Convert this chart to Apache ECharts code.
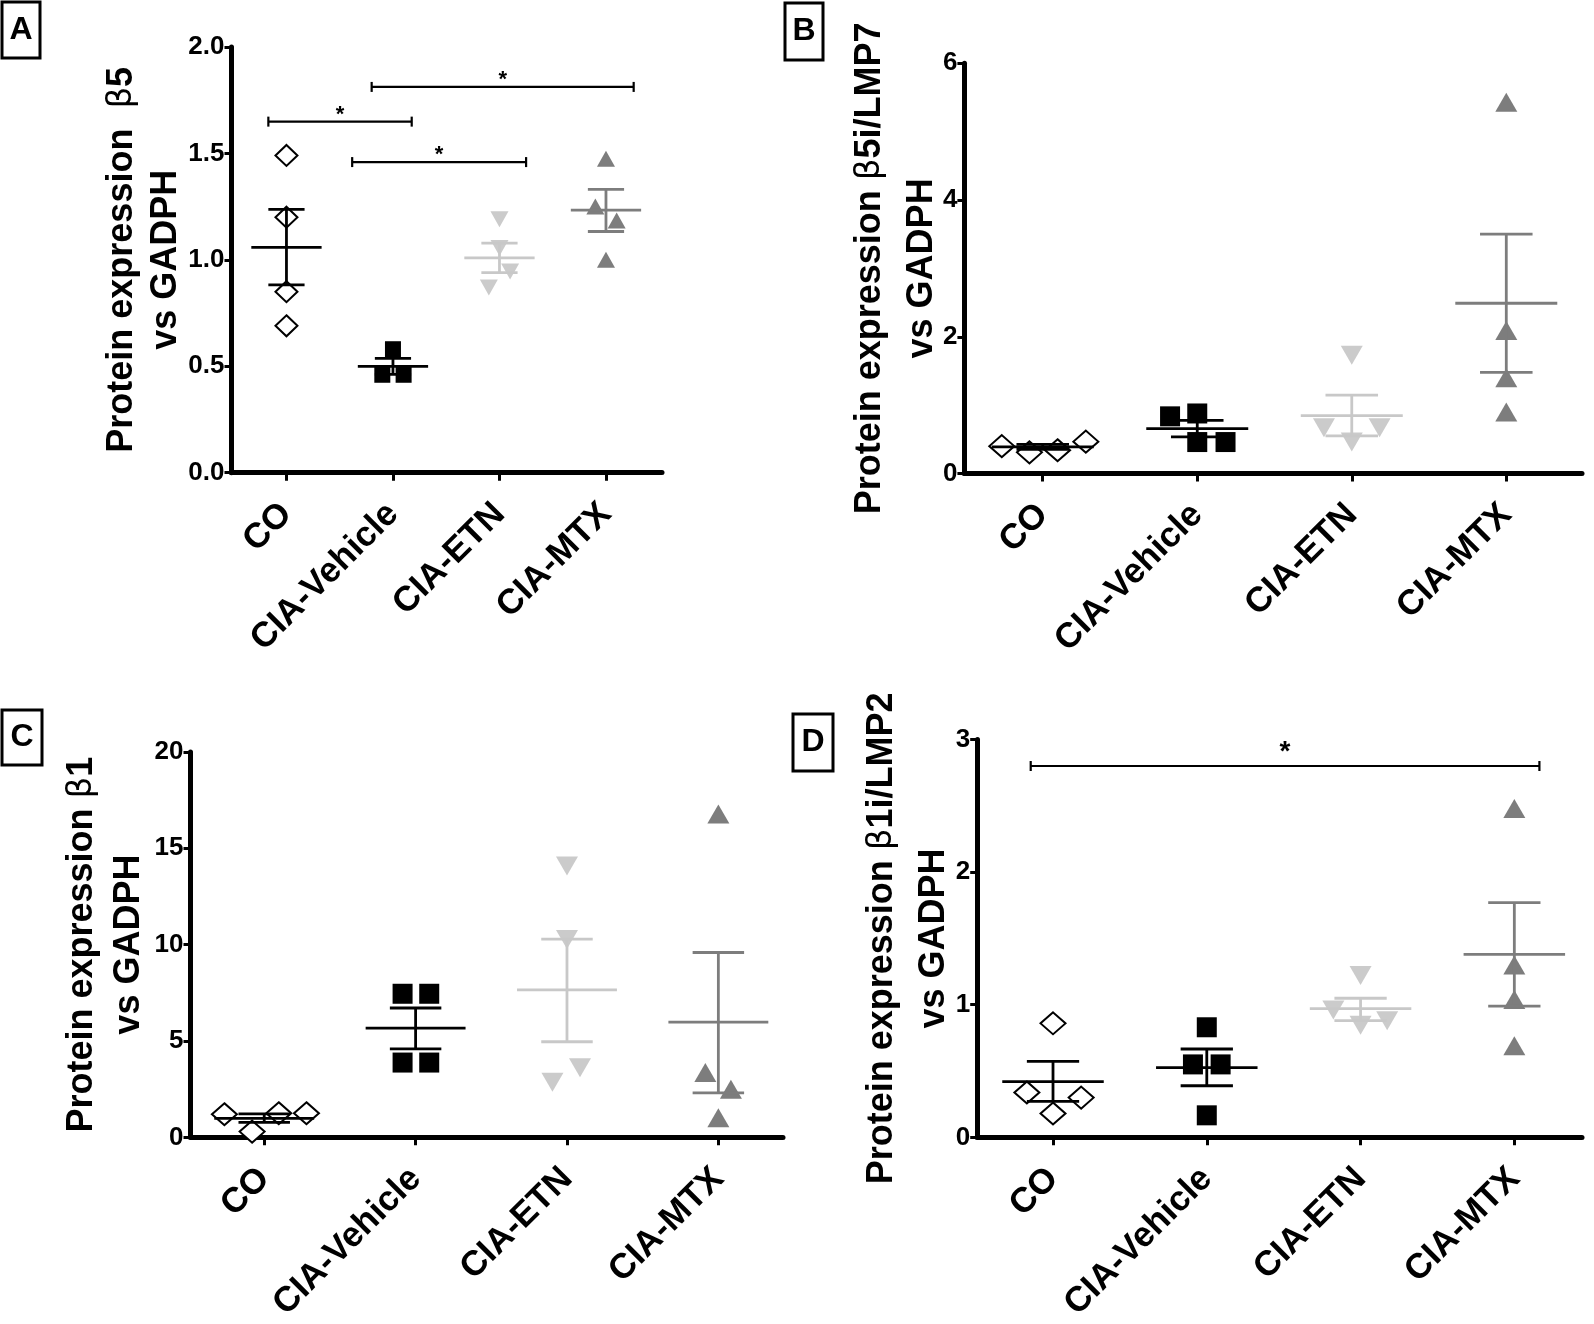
<!DOCTYPE html>
<html><head><meta charset="utf-8">
<script src="https://cdn.jsdelivr.net/npm/echarts@6/dist/echarts.min.js"></script>
<style>html,body{margin:0;padding:0;background:#fff;}#c{width:1594px;height:1324px;}</style>
</head><body><div id="c"></div>
<script>
// ---------- data ----------
const categories = ['CO', 'CIA-Vehicle', 'CIA-ETN', 'CIA-MTX'];

// Panel A : beta5
const aCO      = [1.49, 1.20, 0.85, 0.69];
const aVehicle = [0.58, 0.46, 0.46];
const aETN     = [1.19, 1.055, 0.945, 0.87];
const aMTX     = [1.475, 1.25, 1.185, 1.00];
const aMean    = [1.058, 0.499, 1.009, 1.233];
const aSemLow  = [0.882, 0.462, 0.940, 1.133];
const aSemHigh = [1.237, 0.537, 1.078, 1.331];
const aSig     = [[-0.17, 1.176, 1.649], [0.617, 2.25, 1.459], [0.80, 3.26, 1.812]];
const aTicks   = ['0.0', '0.5', '1.0', '1.5', '2.0'];

// Panel B : beta5i/LMP7
const bCO      = [0.40, 0.31, 0.34, 0.466];
const bVehicle = [0.836, 0.878, 0.46, 0.46];
const bETN     = [1.73, 0.67, 0.67, 0.46];
const bMTX     = [5.43, 2.09, 1.40, 0.90];
const bMean    = [0.39, 0.657, 0.848, 2.49];
const bSemLow  = [0.355, 0.537, 0.549, 1.48];
const bSemHigh = [0.425, 0.776, 1.146, 3.50];
const bSig     = [];
const bTicks   = ['0', '2', '4', '6'];

// Panel C : beta1
const cCO      = [1.2, 0.3, 1.25, 1.25];
const cVehicle = [7.45, 7.45, 3.88, 3.88];
const cETN     = [14.08, 10.27, 3.61, 2.86];
const cMTX     = [16.78, 3.37, 2.49, 1.02];
const cMean    = [0.98, 5.67, 7.65, 5.98];
const cSemLow  = [0.78, 4.59, 4.96, 2.31];
const cSemHigh = [1.22, 6.71, 10.29, 9.59];
const cSig     = [];
const cTicks   = ['0', '5', '10', '15', '20'];

// Panel D : beta1i/LMP2
const dCO      = [0.86, 0.338, 0.30, 0.18];
const dVehicle = [0.83, 0.55, 0.55, 0.166];
const dETN     = [1.22, 0.96, 0.88, 0.845];
const dMTX     = [2.48, 1.30, 1.04, 0.69];
const dMean    = [0.42, 0.525, 0.971, 1.38];
const dSemLow  = [0.271, 0.389, 0.880, 0.99];
const dSemHigh = [0.573, 0.666, 1.049, 1.77];
const dSig     = [[-0.145, 3.163, 2.80]];
const dTicks   = ['0', '1', '2', '3'];

// ---------- layout (horizontal jitter of points within a group, in category units) ----------
const jitA = [[0, 0, 0, 0], [0, -0.10, 0.10], [0, 0, 0.10, -0.10], [0, -0.10, 0.10, 0]];
const jitB = [[-0.265, -0.086, 0.096, 0.279], [-0.176, 0, 0, 0.183], [0, -0.18, 0.18, 0], [0, 0, 0, 0]];
const jitC = [[-0.263, -0.08, 0.096, 0.279], [-0.086, 0.09, -0.086, 0.09], [0, 0, 0.086, -0.096], [0, -0.086, 0.083, 0]];
const jitD = [[0, -0.17, 0.183, 0], [0, -0.09, 0.09, 0], [0, -0.177, 0.173, 0], [0, 0, 0, 0]];

const FONT = '"Liberation Sans", Arial, sans-serif';
const lineColors = ['#000000', '#000000', '#c8c8c8', '#7d7d7d'];
const MEAN_HALF = 0.33, CAP_HALF = 0.17;

const panels = [
  { letter: 'A', groups: [aCO, aVehicle, aETN, aMTX], mean: aMean, lo: aSemLow, hi: aSemHigh, sig: aSig, ticks: aTicks, jit: jitA,
    grid: { left: 231.5, top: 46.9, width: 430.5, height: 425.8 }, xMin: -0.516, xMax: 3.526, yMax: 2, yInt: 0.5,
    title: 'Protein expression  {g|β}5\nvs GADPH', nameGap: 43, lh: 44, sz: { dia: [22, 21], rect: 16, tri: [18, 16] },
    starSize: 22, starOff: 7, box: { x: 2, y: 2, w: 38, h: 56 } },
  { letter: 'B', groups: [bCO, bVehicle, bETN, bMTX], mean: bMean, lo: bSemLow, hi: bSemHigh, sig: bSig, ticks: bTicks, jit: jitB,
    grid: { left: 964.4, top: 63.3, width: 617.6, height: 410.2 }, xMin: -0.507, xMax: 3.49, yMax: 6, yInt: 2,
    title: 'Protein expression {g|β}5i/LMP7\nvs GADPH', nameGap: 16, lh: 52, sz: { dia: [25, 22], rect: 20, tri: [22, 19] },
    starSize: 22, starOff: 7, box: { x: 785, y: 3, w: 38, h: 57 } },
  { letter: 'C', groups: [cCO, cVehicle, cETN, cMTX], mean: cMean, lo: cSemLow, hi: cSemHigh, sig: cSig, ticks: cTicks, jit: jitC,
    grid: { left: 190.5, top: 751.9, width: 592.5, height: 402.4 }, xMin: -0.487, xMax: 3.427, yMax: 20, yInt: 5,
    title: 'Protein expression {g|β}1\nvs GADPH', nameGap: 38, lh: 47, sz: { dia: [25, 22], rect: 20, tri: [22, 19] },
    starSize: 22, starOff: 7, box: { x: 2, y: 710, w: 40, h: 55 } },
  { letter: 'D', groups: [dCO, dVehicle, dETN, dMTX], mean: dMean, lo: dSemLow, hi: dSemHigh, sig: dSig, ticks: dTicks, jit: jitD,
    grid: { left: 977.2, top: 739.5, width: 604.8, height: 408.7 }, xMin: -0.493, xMax: 3.44, yMax: 3, yInt: 1,
    title: 'Protein expression {g|β}1i/LMP2\nvs GADPH', nameGap: 17, lh: 52, sz: { dia: [25, 22], rect: 20, tri: [22, 19] },
    starSize: 28, starOff: 14, box: { x: 793, y: 714, w: 40, h: 57 } }
];

const grids = [], xAxes = [], yAxes = [], series = [], graphics = [];

panels.forEach((p, pi) => {
  grids.push(Object.assign({ containLabel: false }, p.grid));
  xAxes.push({
    type: 'value', gridIndex: pi, min: p.xMin, max: p.xMax,
    axisLine: { show: true, onZero: false, lineStyle: { color: '#000', width: 5 } },
    axisTick: { show: true, customValues: [0, 1, 2, 3], length: 8, lineStyle: { color: '#000', width: 3 } },
    axisLabel: { show: true, customValues: [0, 1, 2, 3], rotate: 45, margin: 36, color: '#000',
      fontFamily: FONT, fontWeight: 'bold', fontSize: 35, formatter: v => categories[Math.round(v)] },
    splitLine: { show: false }
  });
  yAxes.push({
    type: 'value', gridIndex: pi, min: 0, max: p.yMax, interval: p.yInt,
    axisLine: { show: true, onZero: false, lineStyle: { color: '#000', width: 5 } },
    axisTick: { show: true, length: 7, lineStyle: { color: '#000', width: 3 } },
    axisLabel: { margin: 7, color: '#000', fontFamily: FONT, fontWeight: 'bold', fontSize: 26,
      formatter: v => p.ticks[Math.round(v / p.yInt)] },
    splitLine: { show: false },
    name: p.title, nameLocation: 'middle', nameGap: p.nameGap, nameMoveOverlap: false,
    nameTextStyle: { color: '#000', fontFamily: FONT, fontWeight: 'bold', fontSize: 36, lineHeight: p.lh, align: 'center',
      rich: { g: { fontFamily: '"DejaVu Sans", sans-serif', fontWeight: 'normal', fontSize: 34, lineHeight: p.lh, color: '#000' } } }
  });

  const styles = [
    { symbol: 'diamond', symbolSize: p.sz.dia, itemStyle: { color: '#fff', borderColor: '#000', borderWidth: 2, opacity: 1 } },
    { symbol: 'rect', symbolSize: p.sz.rect, itemStyle: { color: '#000', opacity: 1 } },
    { symbol: 'triangle', symbolSize: p.sz.tri, symbolRotate: 180, itemStyle: { color: '#cbcbcb', opacity: 1 } },
    { symbol: 'triangle', symbolSize: p.sz.tri, itemStyle: { color: '#7d7d7d', opacity: 1 } }
  ];
  p.groups.forEach((vals, gi) => {
    series.push(Object.assign({
      type: 'scatter', xAxisIndex: pi, yAxisIndex: pi, z: 2, silent: true,
      data: vals.map((v, k) => [gi + p.jit[gi][k], v])
    }, styles[gi]));
  });

  series.push({
    type: 'custom', xAxisIndex: pi, yAxisIndex: pi, z: 3, silent: true, clip: false,
    data: p.mean.map((m, gi) => [gi, m, p.lo[gi], p.hi[gi]]),
    renderItem: (params, api) => {
      const i = api.value(0), m = api.value(1), lo = api.value(2), hi = api.value(3);
      const st = { stroke: lineColors[params.dataIndex], lineWidth: 2.8, fill: null };
      const a = api.coord([i - MEAN_HALF, m]), b = api.coord([i + MEAN_HALF, m]);
      const l1 = api.coord([i - CAP_HALF, lo]), l2 = api.coord([i + CAP_HALF, lo]);
      const h1 = api.coord([i - CAP_HALF, hi]), h2 = api.coord([i + CAP_HALF, hi]);
      const c = api.coord([i, lo]);
      return { type: 'group', children: [
        { type: 'line', shape: { x1: a[0], y1: a[1], x2: b[0], y2: b[1] }, style: st },
        { type: 'line', shape: { x1: c[0], y1: l1[1], x2: c[0], y2: h1[1] }, style: st },
        { type: 'line', shape: { x1: l1[0], y1: l1[1], x2: l2[0], y2: l2[1] }, style: st },
        { type: 'line', shape: { x1: h1[0], y1: h1[1], x2: h2[0], y2: h2[1] }, style: st }
      ] };
    }
  });

  if (p.sig.length) {
    series.push({
      type: 'custom', xAxisIndex: pi, yAxisIndex: pi, z: 3, silent: true, clip: false,
      data: p.sig,
      renderItem: (params, api) => {
        const y = api.value(2);
        const a = api.coord([api.value(0), y]), b = api.coord([api.value(1), y]);
        const st = { stroke: '#000', lineWidth: 2.2, fill: null };
        return { type: 'group', children: [
          { type: 'line', shape: { x1: a[0], y1: a[1], x2: b[0], y2: b[1] }, style: st },
          { type: 'line', shape: { x1: a[0], y1: a[1] - 5, x2: a[0], y2: a[1] + 5 }, style: st },
          { type: 'line', shape: { x1: b[0], y1: b[1] - 5, x2: b[0], y2: b[1] + 5 }, style: st },
          { type: 'text', x: (a[0] + b[0]) / 2, y: a[1] - p.starOff,
            style: { text: '*', fill: '#000', font: 'bold ' + p.starSize + 'px ' + FONT, align: 'center', verticalAlign: 'middle' } }
        ] };
      }
    });
  }

  graphics.push({ type: 'rect', shape: { x: p.box.x, y: p.box.y, width: p.box.w, height: p.box.h },
    style: { fill: '#fff', stroke: '#000', lineWidth: 3 } });
  graphics.push({ type: 'text', x: p.box.x + p.box.w / 2, y: p.box.y + p.box.h / 2,
    style: { text: p.letter, fill: '#000', font: 'bold 32px ' + FONT, align: 'center', verticalAlign: 'middle' } });
});

const chart = echarts.init(document.getElementById('c'), null, { renderer: 'canvas' });
chart.setOption({
  animation: false,
  backgroundColor: '#fff',
  grid: grids, xAxis: xAxes, yAxis: yAxes, series: series, graphic: graphics
});
</script></body></html>
